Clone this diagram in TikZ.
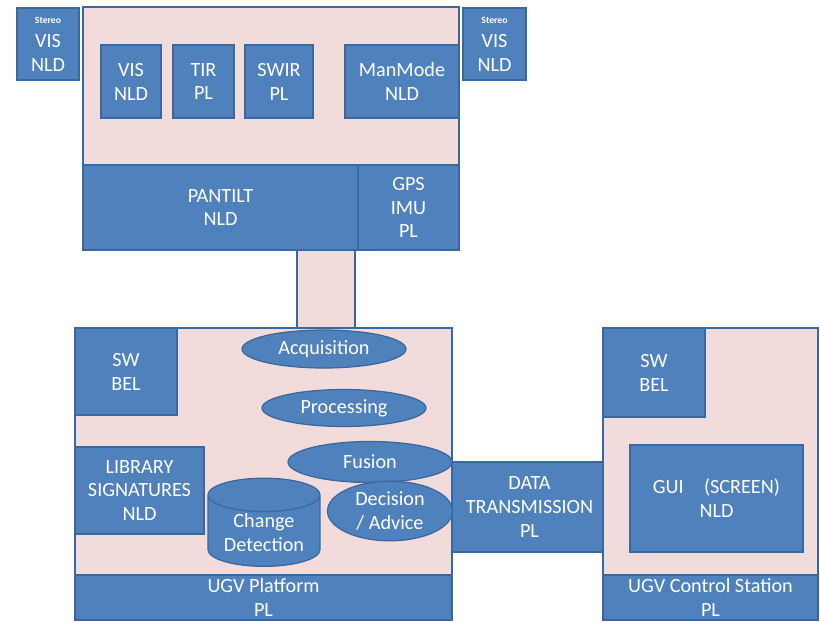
\documentclass[tikz,border=0pt]{standalone}
\usepackage{fontspec}
\setmainfont{Carlito}
\usepackage{xcolor}
\usepackage{tikz}
\usetikzlibrary{shapes.geometric, positioning}
\definecolor{azul}{HTML}{4F81BD}
\definecolor{azulborda}{HTML}{3A679C}
\definecolor{rosa}{HTML}{F2DCDB}

\begin{document}
\begin{tikzpicture}[x=0.02cm, y=-0.02cm,
    bloco/.style={draw=azulborda, line width=0.7pt, fill=azul, text=white,
                  align=center, inner sep=1pt, font=\fontsize{11.5}{13.6}\selectfont},
    fundo/.style={draw=azulborda, line width=0.7pt, fill=rosa, inner sep=0pt},
    oval/.style={bloco, ellipse},
    tambor/.style={bloco, cylinder, shape border rotate=90, aspect=0.4}
]
    \useasboundingbox (0,0) rectangle (820,621);

    % sensor head
    \node[fundo, minimum width=7.52cm, minimum height=4.86cm] (cabeca) at (271,128.5) {};
    \node[bloco, minimum width=5.5cm, minimum height=1.7cm] (pantilt) at (220.5,207.5) {PANTILT\\NLD};
    \node[bloco, minimum width=2.02cm, minimum height=1.7cm] (gps) at (408.5,207.5) {GPS\\IMU\\PL};
    \node[bloco, minimum width=1.2cm, minimum height=1.46cm] (vis) at (131,81.5) {VIS\\NLD};
    \node[bloco, minimum width=1.22cm, minimum height=1.46cm] (tir) at (203.5,81.5) {TIR\\PL};
    \node[bloco, minimum width=1.36cm, minimum height=1.46cm] (swir) at (279,81.5) {SWIR\\PL};
    \node[bloco, minimum width=2.28cm, minimum height=1.46cm] (manmode) at (402,81.5) {ManMode\\NLD};
    \node[bloco, minimum width=1.24cm, minimum height=1.44cm] (stereoesq) at (48,44)
        {{\fontsize{5.5}{7}\selectfont\bfseries Stereo}\\VIS\\NLD};
    \node[bloco, minimum width=1.26cm, minimum height=1.44cm] (stereodir) at (494.5,44)
        {{\fontsize{5.5}{7}\selectfont\bfseries Stereo}\\VIS\\NLD};

    \node[fundo, minimum width=1.16cm, minimum height=1.56cm] (mastro) at (326,289) {};

    % UGV platform
    \node[fundo, minimum width=7.54cm, minimum height=5.84cm] (plataforma) at (263.5,474) {};
    \node[bloco, minimum width=7.54cm, minimum height=0.9cm] (ugv) at (263.5,597.5) {UGV Platform\\PL};
    \node[bloco, minimum width=2.04cm, minimum height=1.74cm] (swesq) at (126,371.5) {SW\\BEL};
    \node[bloco, minimum width=2.58cm, minimum height=1.74cm] (biblioteca) at (139.5,490.5) {LIBRARY\\SIGNATURES\\NLD};
    \node[tambor, minimum width=2.24cm, minimum height=1.5cm] (mudanca) at (264,533) {Change\\Detection};

    \node[bloco, minimum width=3.1cm, minimum height=1.8cm] (dados) at (529.5,507) {DATA\\TRANSMISSION\\PL};

    \node[oval, minimum width=3.28cm, minimum height=0.76cm] (aquisicao) at (324,349) {Acquisition};
    \node[oval, minimum width=3.28cm, minimum height=0.74cm] (processamento) at (344,408) {Processing};
    \node[oval, minimum width=3.28cm, minimum height=0.82cm] (fusao) at (370,462) {Fusion};
    \node[oval, minimum width=2.5cm, minimum height=0.94cm] (decisao) at (390,511) {Decision\\/ Advice};

    % control station
    \node[fundo, minimum width=4.3cm, minimum height=5.84cm] (estacao) at (710.5,474) {};
    \node[bloco, minimum width=4.3cm, minimum height=0.9cm] (controle) at (710.5,597.5) {UGV Control Station\\PL};
    \node[bloco, minimum width=2.04cm, minimum height=1.78cm] (swdir) at (654,372.5) {SW\\BEL};
    \node[bloco, minimum width=3.46cm, minimum height=2.14cm] (gui) at (716.5,498.5) {GUI\quad(SCREEN)\\NLD};
\end{tikzpicture}
\end{document}
